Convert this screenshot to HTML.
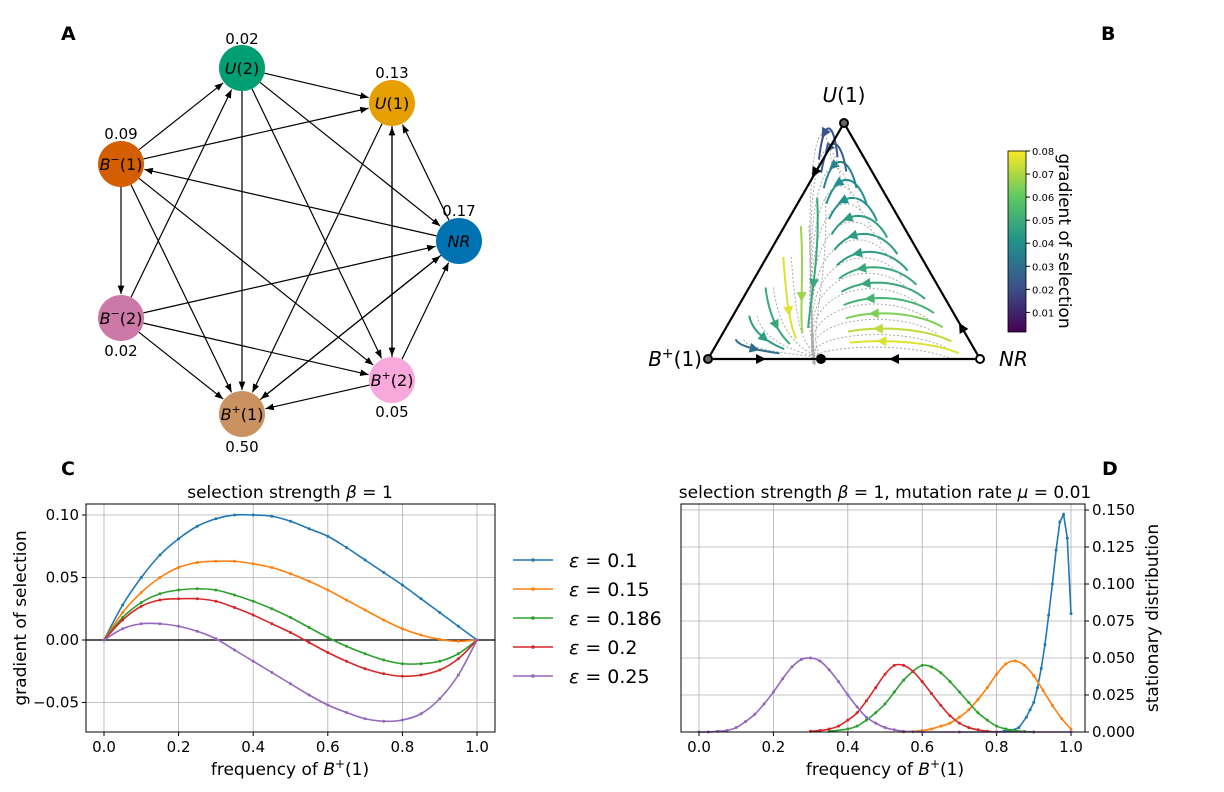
<!DOCTYPE html>
<html><head><meta charset="utf-8">
<style>
body{margin:0;background:#fff;}
svg{display:block;font-family:"DejaVu Sans","Liberation Sans",sans-serif;}
</style></head>
<body>
<svg id="fig" width="1224" height="792" viewBox="0 0 1224 792" xmlns="http://www.w3.org/2000/svg">
<defs>
<marker id="ah" viewBox="0 0 10 10" refX="10" refY="5" markerWidth="7" markerHeight="7" orient="auto-start-reverse"><path d="M0,1 L10,5 L0,9 z" fill="#000"/></marker>
<linearGradient id="vir" x1="0" y1="1" x2="0" y2="0">
<stop offset="0" stop-color="#440154"/><stop offset="0.25" stop-color="#3b528b"/><stop offset="0.5" stop-color="#21918c"/><stop offset="0.75" stop-color="#5ec962"/><stop offset="1" stop-color="#fde725"/>
</linearGradient>
</defs>
<g font-weight="bold" font-size="19">
<text x="61" y="40">A</text>
<text x="1101" y="40">B</text>
<text x="61" y="475">C</text>
<text x="1102" y="475">D</text>
</g>
<g id="net"></g>
<g id="tri"></g>
<g id="pc"></g>
<g id="pd"></g>
</svg>
<script>
const NS="http://www.w3.org/2000/svg";
function mk(tag,attrs,parent,txt){const e=document.createElementNS(NS,tag);for(const k in attrs)e.setAttribute(k,attrs[k]);if(txt!==undefined)e.textContent=txt;parent.appendChild(e);return e;}
const colors=["#1f77b4","#ff7f0e","#2ca02c","#d62728","#9467bd"];

/* ---------- Panel C data ---------- */
const cX=[0,.05,.1,.15,.2,.25,.3,.35,.4,.45,.5,.55,.6,.65,.7,.75,.8,.85,.9,.95,1];
const cBlue=[0,.028,.05,.068,.081,.091,.097,.1,.1,.099,.095,.089,.083,.074,.064,.054,.044,.033,.022,.011,0];
const cOrange=[0,.022,.038,.05,.058,.062,.063,.063,.061,.058,.053,.047,.04,.032,.024,.016,.009,.004,.0005,-.001,0];
const cGreen=[0,.018,.03,.037,.04,.041,.04,.036,.031,.025,.018,.01,.002,-.005,-.011,-.016,-.019,-.019,-.017,-.011,0];
const cRed=[0,.016,.027,.032,.033,.033,.031,.026,.02,.013,.006,-.002,-.01,-.017,-.023,-.027,-.029,-.028,-.024,-.015,0];
const cPurple=[0,.009,.013,.013,.011,.007,.001,-.008,-.017,-.026,-.035,-.044,-.052,-.058,-.063,-.065,-.064,-.059,-.047,-.028,0];
const cSeries=[cBlue,cOrange,cGreen,cRed,cPurple];
const cLegend=["ε = 0.1","ε = 0.15","ε = 0.186","ε = 0.2","ε = 0.25"];
const cXTicks=[0,.2,.4,.6,.8,1];
const cXTickLabels=["0.0","0.2","0.4","0.6","0.8","1.0"];
const cYTicks=[-.05,0,.05,.1];
const cYTickLabels=["−0.05","0.00","0.05","0.10"];

/* ---------- Panel D data ---------- */
const dPurpleX=[0,.025,.05,.075,.1,.125,.15,.175,.2,.225,.25,.275,.3,.325,.35,.375,.4,.425,.45,.475,.5,.525,.55,.575,.6,.7,.8,.9,1];
const dPurpleY=[0,0,.0005,.001,.003,.007,.012,.019,.027,.036,.044,.049,.05,.048,.042,.034,.025,.017,.01,.006,.003,.0015,.0005,.0002,0,0,0,0,0];
const dRedX=[.3,.325,.35,.375,.4,.425,.45,.475,.5,.525,.55,.575,.6,.625,.65,.675,.7,.725,.75,.775,.8];
const dRedY=[.0005,.001,.002,.004,.008,.013,.021,.03,.039,.045,.045,.041,.034,.026,.018,.011,.006,.003,.0015,.0005,0];
const dGreenX=[.35,.4,.425,.45,.475,.5,.525,.55,.575,.6,.625,.65,.675,.7,.725,.75,.775,.8,.825,.85,.875,.9];
const dGreenY=[.0005,.002,.004,.008,.013,.019,.027,.035,.041,.045,.044,.04,.034,.027,.02,.013,.008,.004,.002,.001,.0003,0];
const dOrangeX=[.55,.6,.625,.65,.675,.7,.725,.75,.775,.8,.825,.85,.875,.9,.925,.95,.975,1];
const dOrangeY=[0,.001,.002,.004,.006,.01,.015,.022,.03,.039,.046,.048,.045,.038,.028,.018,.009,.002];
const dBlueX=[.8,.82,.84,.86,.88,.89,.9,.91,.92,.93,.94,.95,.96,.97,.98,.99,1];
const dBlueY=[0,.0005,.001,.003,.01,.015,.02,.03,.043,.059,.079,.1,.123,.142,.147,.131,.08];
const dXTicks=[0,.2,.4,.6,.8,1];
const dXTickLabels=["0.0","0.2","0.4","0.6","0.8","1.0"];
const dYTicks=[0,.025,.05,.075,.1,.125,.15];
const dYTickLabels=["0.000","0.025","0.050","0.075","0.100","0.125","0.150"];

/* ---------- Network data ---------- */
const nodeNames=["U2","U1","Bm1","NR","Bm2","Bp2","Bp1"];
const nodeLetter=["U","U","B","NR","B","B","B"];
const nodeSup=["","","−","","−","+","+"];
const nodeArg=["(2)","(1)","(1)","","(2)","(2)","(1)"];
const nodeFreq=["0.02","0.13","0.09","0.17","0.02","0.05","0.50"];
const nodeColors=["#009e73","#e69f00","#d55e00","#0072b2","#cc79a7","#f9a8dc","#ca9161"];
const edges=[["U2","U1"],["U2","NR"],["U2","Bp1"],["U2","Bp2"],["Bm1","U2"],["Bm1","U1"],["Bm1","Bm2"],["Bm1","Bp1"],["Bm1","Bp2"],["NR","Bm1"],["NR","U1"],["NR","Bp1"],["Bp1","NR"],["U1","Bp2"],["Bp2","U1"],["Bm2","U2"],["Bm2","NR"],["Bm2","Bp2"],["Bm2","Bp1"],["U1","Bp1"],["Bp2","NR"],["Bp2","Bp1"]];

function smooth(P){let d=`M${P[0][0]},${P[0][1]}`;for(let i=0;i<P.length-1;i++){const p0=P[Math.max(0,i-1)],p1=P[i],p2=P[i+1],p3=P[Math.min(P.length-1,i+2)];
 d+=` C${p1[0]+(p2[0]-p0[0])/6},${p1[1]+(p2[1]-p0[1])/6} ${p2[0]-(p3[0]-p1[0])/6},${p2[1]-(p3[1]-p1[1])/6} ${p2[0]},${p2[1]}`;}return d;}

/* ---- Panel A ---- */
(function(){
 const g=document.getElementById('net');
 const pos={U2:[242,68],U1:[392,103],Bm1:[121,164],NR:[459,241],Bm2:[121,318],Bp2:[392,380],Bp1:[242,414]};
 const R=23;
 edges.forEach(e=>{
  const a=pos[e[0]],b=pos[e[1]];const dx=b[0]-a[0],dy=b[1]-a[1],L=Math.hypot(dx,dy);
  const l=mk('line',{x1:a[0]+dx/L*R,y1:a[1]+dy/L*R,x2:b[0]-dx/L*(R+1),y2:b[1]-dy/L*(R+1),stroke:'#000','stroke-width':1.2,'marker-end':'url(#ah)'},g);
  
  
 });
 const fy={U2:-24,U1:-25,Bm1:-25,NR:-25,Bm2:38,Bp2:37,Bp1:38};
 nodeNames.forEach((n,i)=>{
  const p=pos[n];
  const c=mk('circle',{cx:p[0],cy:p[1],r:R,fill:nodeColors[i]},g);
  
  
  const t=mk('text',{x:p[0],y:p[1]+6,'text-anchor':'middle','font-size':16},g);
  t.innerHTML=`<tspan font-style="italic">${nodeLetter[i]}</tspan>`+(nodeSup[i]?`<tspan dy="-7" font-size="11">${nodeSup[i]}</tspan><tspan dy="7">${nodeArg[i]}</tspan>`:nodeArg[i]);
  
  
  const f=mk('text',{x:p[0],y:p[1]+fy[n],'text-anchor':'middle','font-size':15},g,nodeFreq[i]);
  
  
 });
})();

/* ---- Panel B ---- */
(function(){
 const g=document.getElementById('tri');
 const U=[844,123],B=[708,359],N=[980,359],S=[821,359];
 const vir=[[68,1,84],[59,82,139],[33,145,140],[94,201,98],[253,231,37]];
 function vc(v){v=Math.max(0,Math.min(1,v))*4;const i=Math.min(3,Math.floor(v)),f=v-i;const a=vir[i],b=vir[i+1];
  return `rgb(${a.map((x,j)=>Math.round(x+(b[j]-x)*f)).join(',')})`;}
 function cpt(P0,C1,C2,P3,t){const m=1-t;return [0,1].map(j=>m*m*m*P0[j]+3*m*m*t*C1[j]+3*m*t*t*C2[j]+t*t*t*P3[j]);}
 const rf=[.05,.1,.16,.22,.28,.34,.4,.47,.54,.61,.68,.75,.82,.88];
 const rv=[.95,.9,.8,.65,.6,.6,.55,.55,.55,.5,.5,.45,.3,.25];
 rf.forEach((f,i)=>{
  const sx=N[0]+(U[0]-N[0])*f-14-10*f,sy=N[1]+(U[1]-N[1])*f+6;
  const h=18+50*f;
  const P0=[sx,sy],C1=[sx-0.35*(sx-S[0]),sy-h],C2=[S[0]-25+10*f,sy-h*0.6],P3=S;
  const gp=mk('path',{d:`M${sx},${sy} C${C1} ${C2} ${S}`,fill:'none',stroke:'#aaa','stroke-width':1,'stroke-dasharray':'2,2',transform:'translate(-6,6)'},g);
  
  
  const pts=[];for(let t=0;t<=0.6;t+=0.03)pts.push(cpt(P0,C1,C2,P3,t));
  const p=mk('path',{d:'M'+pts.map(q=>q.join(',')).join(' L'),fill:'none',stroke:vc(rv[i]),'stroke-width':2},g);
  
  
  const a=cpt(P0,C1,C2,P3,0.36),b=cpt(P0,C1,C2,P3,0.4);
  const ang=Math.atan2(b[1]-a[1],b[0]-a[0])*180/Math.PI;
  const ar=mk('path',{d:'M6,0 L-4,-5 L-4,5 Z',fill:vc(rv[i]),transform:`translate(${b[0]},${b[1]}) rotate(${ang})`},g);
  
  
 });
 const lf=[.1,.2,.32,.45,.58,.7];
 const lv=[.35,.55,.6,.95,.85,.6];
 lf.forEach((f,i)=>{
  const sx=B[0]+(U[0]-B[0])*f+14,sy=B[1]+(U[1]-B[1])*f+4;
  const P0=[sx,sy],C1=[sx+5,sy+(S[1]-sy)*0.6],C2=[S[0]-30,S[1]-5],P3=S;
  const gp=mk('path',{d:`M${sx},${sy} C${C1} ${C2} ${S}`,fill:'none',stroke:'#aaa','stroke-width':1,'stroke-dasharray':'2,2',transform:'translate(8,0)'},g);
  
  
  const pts=[];for(let t=0;t<=0.6;t+=0.05)pts.push(cpt(P0,C1,C2,P3,t));
  const p=mk('path',{d:'M'+pts.map(q=>q.join(',')).join(' L'),fill:'none',stroke:vc(lv[i]),'stroke-width':2},g);
  
  
  const a=cpt(P0,C1,C2,P3,0.3),b=cpt(P0,C1,C2,P3,0.34);
  const ang=Math.atan2(b[1]-a[1],b[0]-a[0])*180/Math.PI;
  const ar=mk('path',{d:'M6,0 L-4,-5 L-4,5 Z',fill:vc(lv[i]),transform:`translate(${b[0]},${b[1]}) rotate(${ang})`},g);
  
  
 });
 const tp=mk('path',{d:`M${B[0]},${B[1]} L${U[0]},${U[1]} L${N[0]},${N[1]} Z`,fill:'none',stroke:'#000','stroke-width':2.2},g);
 
 
 const edgeArrows=[[760,359,0],[895,359,180],[962,328,-120],[815,172,120]];
 edgeArrows.forEach(q=>{const a=mk('path',{d:'M6,0 L-4,-5 L-4,5 Z',fill:'#000',transform:`translate(${q[0]},${q[1]}) rotate(${q[2]})`},g);
  
  });
 [[B,'#666'],[U,'#666'],[N,'#fff']].forEach(q=>{
  const c=mk('circle',{cx:q[0][0],cy:q[0][1],r:4,fill:q[1],stroke:'#000','stroke-width':2},g);
  
  
 });
 const sc=mk('circle',{cx:S[0],cy:S[1],r:5,fill:'#000'},g);
 
 
 const t1=mk('text',{x:U[0],y:102,'text-anchor':'middle','font-size':20},g);
 t1.innerHTML='<tspan font-style="italic">U</tspan>(1)';
 
 
 const t2=mk('text',{x:702,y:366,'text-anchor':'end','font-size':20},g);
 t2.innerHTML='<tspan font-style="italic">B</tspan><tspan dy="-8" font-size="14">+</tspan><tspan dy="8">(1)</tspan>';
 
 
 const t3=mk('text',{x:999,y:366,'font-size':20,'font-style':'italic'},g,'NR');
 
 
 const cb=mk('rect',{x:1008,y:151,width:18,height:181,fill:'url(#vir)',stroke:'#000','stroke-width':0.8},g);
 
 
 const cbt=[.01,.02,.03,.04,.05,.06,.07,.08];
 cbt.forEach(v=>{const y=332-(v-0.0015)/(0.08-0.0015)*181;
  mk('line',{x1:1026,x2:1030,y1:y,y2:y,stroke:'#000'},g);
  const t=mk('text',{x:1032,y:y+4,'font-size':10},g,v.toFixed(2));
  
  });
 const cl=mk('text',{x:0,y:0,'font-size':17,transform:'translate(1059,241) rotate(90)','text-anchor':'middle'},g,'gradient of selection');
 
 
})();

function axes(g,L,T,W,H){return mk('rect',{x:L,y:T,width:W,height:H,fill:'none',stroke:'#000','stroke-width':1},g);}

/* ---- Panel C ---- */
(function(){
 const g=document.getElementById('pc');
 const xC=v=>104+v*373, yC=v=>640-v*1250;
 cXTicks.forEach((v,i)=>{mk('line',{x1:xC(v),x2:xC(v),y1:504,y2:732,stroke:'#b0b0b0','stroke-width':0.8},g);
  mk('line',{x1:xC(v),x2:xC(v),y1:732,y2:736,stroke:'#000'},g);
  const t=mk('text',{x:xC(v),y:752,'text-anchor':'middle','font-size':15},g,cXTickLabels[i]);
  
  });
 cYTicks.forEach((v,i)=>{mk('line',{x1:86,x2:495,y1:yC(v),y2:yC(v),stroke:'#b0b0b0','stroke-width':0.8},g);
  mk('line',{x1:82,x2:86,y1:yC(v),y2:yC(v),stroke:'#000'},g);
  const t=mk('text',{x:79,y:yC(v)+5,'text-anchor':'end','font-size':15},g,cYTickLabels[i]);
  
  });
 const z=mk('line',{x1:86,x2:495,y1:yC(0),y2:yC(0),stroke:'#222','stroke-width':1.6},g);
 
 
 cSeries.forEach((s,k)=>{
  const P=s.map((v,i)=>[xC(cX[i]),yC(v)]);
  const p=mk('path',{d:smooth(P),fill:'none',stroke:colors[k],'stroke-width':1.6},g);
  
  
  P.forEach(q=>{const c=mk('circle',{cx:q[0],cy:q[1],r:1.5,fill:colors[k]},g);
   
   });
 });
 const a=axes(g,86,504,409,228);
 
 
 const ti=mk('text',{x:290,y:498,'text-anchor':'middle','font-size':17},g);
 ti.innerHTML='selection strength <tspan font-style="italic">β</tspan> = 1';
 
 
 const xl=mk('text',{x:290,y:775,'text-anchor':'middle','font-size':17},g);
 xl.innerHTML='frequency of <tspan font-style="italic">B</tspan><tspan dy="-7" font-size="12">+</tspan><tspan dy="7">(1)</tspan>';
 
 
 const yl=mk('text',{x:0,y:0,'text-anchor':'middle','font-size':17,transform:'translate(26,618) rotate(-90)'},g,'gradient of selection');
 
 
 cLegend.forEach((t,k)=>{const y=560+k*29;
  const l=mk('line',{x1:513,x2:553,y1:y,y2:y,stroke:colors[k],'stroke-width':1.6},g);
  
  
  mk('circle',{cx:533,cy:y,r:1.8,fill:colors[k]},g);
  const tx=mk('text',{x:569,y:y+7,'font-size':19},g);
  tx.innerHTML='<tspan font-style="italic">ε</tspan>'+t.slice(1);
  
  });
})();

/* ---- Panel D ---- */
(function(){
 const g=document.getElementById('pd');
 const xD=v=>699+v*372, yD=v=>732-v*1480;
 dXTicks.forEach((v,i)=>{mk('line',{x1:xD(v),x2:xD(v),y1:504,y2:732,stroke:'#b0b0b0','stroke-width':0.8},g);
  mk('line',{x1:xD(v),x2:xD(v),y1:732,y2:736,stroke:'#000'},g);
  const t=mk('text',{x:xD(v),y:752,'text-anchor':'middle','font-size':15},g,dXTickLabels[i]);
  
  });
 dYTicks.forEach((v,i)=>{mk('line',{x1:681,x2:1085,y1:yD(v),y2:yD(v),stroke:'#b0b0b0','stroke-width':0.8},g);
  mk('line',{x1:1085,x2:1089,y1:yD(v),y2:yD(v),stroke:'#000'},g);
  const t=mk('text',{x:1092,y:yD(v)+5,'font-size':15},g,dYTickLabels[i]);
  
  });
 const ser=[[dBlueX,dBlueY],[dOrangeX,dOrangeY],[dGreenX,dGreenY],[dRedX,dRedY],[dPurpleX,dPurpleY]];
 ser.forEach((s,k)=>{
  const P=s[0].map((x,i)=>[xD(x),yD(s[1][i])]);
  const p=mk('path',{d:k===0?'M'+P.map(q=>q.join(',')).join(' L'):smooth(P),fill:'none',stroke:colors[k],'stroke-width':1.6},g);
  
  
  P.forEach(q=>{const c=mk('circle',{cx:q[0],cy:q[1],r:1.5,fill:colors[k]},g);
   
   });
 });
 const a=axes(g,681,504,404,228);
 
 
 const ti=mk('text',{x:885,y:498,'text-anchor':'middle','font-size':17},g);
 ti.innerHTML='selection strength <tspan font-style="italic">β</tspan> = 1, mutation rate <tspan font-style="italic">μ</tspan> = 0.01';
 
 
 const xl=mk('text',{x:885,y:775,'text-anchor':'middle','font-size':17},g);
 xl.innerHTML='frequency of <tspan font-style="italic">B</tspan><tspan dy="-7" font-size="12">+</tspan><tspan dy="7">(1)</tspan>';
 
 
 const yl=mk('text',{x:0,y:0,'text-anchor':'middle','font-size':17,transform:'translate(1158,618) rotate(-90)'},g,'stationary distribution');
 
 
})();
</script>
</body></html>
